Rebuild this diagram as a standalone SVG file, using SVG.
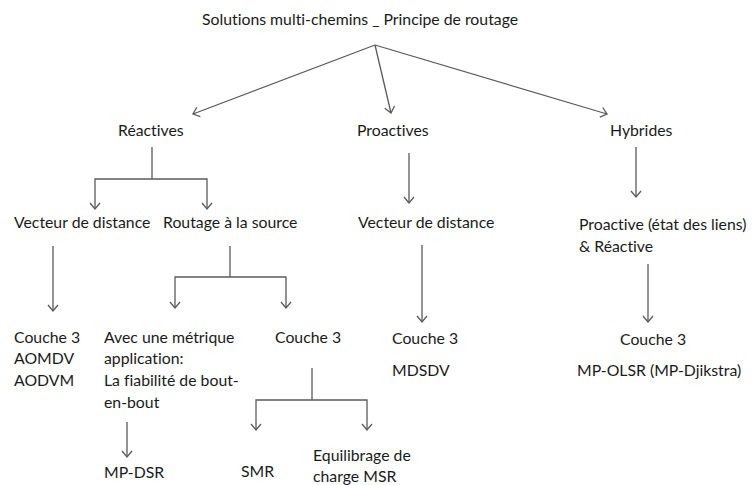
<svg xmlns="http://www.w3.org/2000/svg" width="753" height="485" viewBox="0 0 753 485">
<defs>
<style>
text{font-family:Lato,"Liberation Sans",sans-serif;font-size:15.8px;fill:#1a1a1a;font-variant-ligatures:none;font-feature-settings:"liga" 0,"dlig" 0}
.c{stroke:#5a5a5a;stroke-width:1.3;fill:none}
.a{marker-end:url(#ah)}
</style>
<marker id="ah" markerUnits="userSpaceOnUse" markerWidth="14" markerHeight="14" refX="7" refY="7" orient="auto" viewBox="0 0 14 14">
<path d="M1,2 L7,7 L1,12" fill="none" stroke="#5a5a5a" stroke-width="1.3"/>
</marker>
</defs>
<rect width="753" height="485" fill="#fff"/>
<g id="connectors">
<line class="c a" x1="375" y1="45" x2="193" y2="114"/>
<line class="c a" x1="375" y1="45" x2="391" y2="113"/>
<line class="c a" x1="375" y1="45" x2="607" y2="114"/>
<polyline class="c" points="152,147 152,179"/>
<polyline class="c a" points="152,179 95,179 95,209"/>
<polyline class="c a" points="152,179 207,179 207,209"/>
<line class="c a" x1="53" y1="246" x2="53" y2="311"/>
<polyline class="c" points="230,246 230,277"/>
<polyline class="c a" points="230,277 175,277 175,308"/>
<polyline class="c a" points="230,277 286,277 286,308"/>
<line class="c a" x1="409" y1="153" x2="409" y2="203"/>
<line class="c a" x1="422" y1="245" x2="422" y2="322"/>
<line class="c a" x1="636" y1="147" x2="636" y2="197"/>
<line class="c a" x1="648" y1="264" x2="648" y2="322"/>
<line class="c a" x1="127" y1="422" x2="127" y2="457"/>
<polyline class="c" points="312,368 312,400"/>
<polyline class="c a" points="312,400 256,400 256,430"/>
<polyline class="c a" points="312,400 367,400 367,430"/>
</g>
<g id="root"><text x="202" y="25">Solutions multi-chemins _ Principe de routage</text></g>
<g id="reactives"><text x="118" y="136">Réactives</text></g>
<g id="proactives"><text x="357" y="136">Proactives</text></g>
<g id="hybrides"><text x="610" y="136">Hybrides</text></g>
<g id="vecteur-reactif"><text x="14" y="228">Vecteur de distance</text></g>
<g id="routage-source"><text x="163" y="228">Routage à la source</text></g>
<g id="vecteur-proactif"><text x="358" y="228">Vecteur de distance</text></g>
<g id="proactive-reactive"><text x="579" y="230">Proactive (état des liens)</text><text x="579" y="252">&amp; Réactive</text></g>
<g id="aomdv"><text x="14" y="343">Couche 3</text><text x="14" y="364">AOMDV</text><text x="14" y="386">AODVM</text></g>
<g id="metrique"><text x="104" y="343">Avec une métrique</text><text x="104" y="364">application:</text><text x="104" y="386">La fiabilité de bout-</text><text x="104" y="408">en-bout</text></g>
<g id="couche3-source"><text x="275" y="343">Couche 3</text></g>
<g id="mdsdv"><text x="392" y="344">Couche 3</text><text x="392" y="376">MDSDV</text></g>
<g id="mp-olsr"><text x="620" y="345">Couche 3</text><text x="577" y="376">MP-OLSR (MP-Djikstra)</text></g>
<g id="mp-dsr"><text x="104" y="478">MP-DSR</text></g>
<g id="smr"><text x="241" y="477">SMR</text></g>
<g id="msr"><text x="313" y="461">Equilibrage de</text><text x="313" y="482">charge MSR</text></g>
</svg>
